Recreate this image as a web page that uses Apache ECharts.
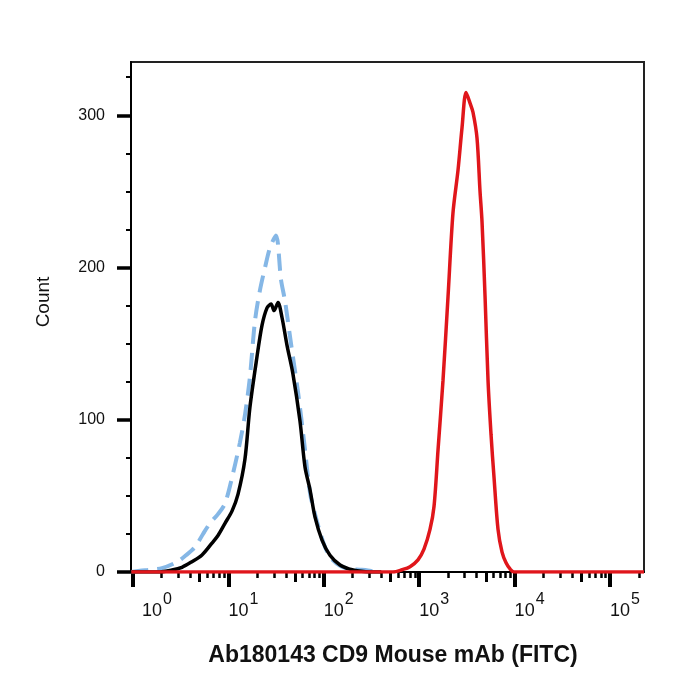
<!DOCTYPE html>
<html>
<head>
<meta charset="utf-8">
<script src="https://cdn.jsdelivr.net/npm/echarts@6/dist/echarts.min.js"></script>
<style>
  html, body { margin: 0; padding: 0; background: #fff; }
  #main { width: 700px; height: 700px; }
</style>
</head>
<body>
<div id="main"></div>
<script>
// FITC intensity / event count
// black solid line
const blackX = [0.96, 1.83, 2.56, 3.26, 4.15, 5.29, 6.73, 7.78, 9.21, 10.9, 12.6, 14.9, 16.8, 19.9, 22.5, 25.4, 28.0, 30.1, 33.1, 36.5, 41.1, 47.5, 56.3, 63.5, 71.7, 80.9, 95.8, 116, 148, 188, 223, 320, 400]
const blackY = [0, 0, 1.3, 3.1, 6.8, 11.2, 19, 24, 32, 40, 51, 74, 108, 141, 162, 173.5, 176, 171.7, 177, 167, 149, 130, 99, 69, 54, 36, 21, 11, 4.6, 1.8, 0.8, 0, 0]
// blue dashed line
const blueX = [0.96, 1.18, 1.51, 2.01, 2.89, 3.59, 4.47, 5.42, 6.41, 7.78, 9.21, 11.2, 13.2, 14.9, 16.8, 19.0, 21.4, 24.2, 27.3, 31.5, 35.6, 39.2, 45.3, 53.7, 62.0, 71.7, 80.9, 98.1, 116, 148, 188, 239, 290, 352]
const blueY = [0, 0.8, 1.5, 2.5, 6.6, 11, 16.4, 25, 32, 38, 45, 65, 85, 103, 128, 165, 185, 200, 213, 221, 192, 178, 150, 118, 86, 52, 38, 20, 10, 4, 2, 1.5, 1, 0]
// red line (CD9)
const redX = [0.96, 531, 661, 801, 971, 1122, 1297, 1429, 1574, 1776, 2005, 2260, 2551, 2811, 3097, 3408, 3661, 4034, 4339, 4553, 4898, 5262, 5662, 6085, 6699, 7382, 8128, 8954, 9854, 227000]
const redY = [0, 0, 1.5, 3.5, 8, 15, 28, 43, 80, 126, 181, 236, 264, 292, 315, 308, 302, 285, 250, 230, 181, 126, 90, 62, 28, 13, 6, 2, 0, 0]

// axis ticks
const xMajor = [1, 10, 100, 1000, 10000, 100000]
const xMid = [5, 50, 500, 5000, 50000]
const xMinor = [2, 3, 4, 6, 7, 8, 9, 20, 30, 40, 60, 70, 80, 90, 200, 300, 400, 600, 700, 800, 900,
  2000, 3000, 4000, 6000, 7000, 8000, 9000, 20000, 30000, 40000, 60000, 70000, 80000, 90000, 200000]
const yMajor = [0, 100, 200, 300]
const yMinor = [25, 50, 75, 125, 150, 175, 225, 250, 275, 325]

const xMin = 0.953
const xMax = 227000
const font = 'Liberation Sans, Arial, Helvetica, sans-serif'

const zip = (xs, ys) => xs.map((x, i) => [x, ys[i]])

function tickAxis(values, len, width) {
  return {
    type: 'log',
    position: 'bottom',
    min: xMin,
    max: xMax,
    axisLine: { show: false },
    splitLine: { show: false },
    axisLabel: { show: false },
    axisTick: { show: true, length: len, customValues: values, lineStyle: { color: '#000', width: width } }
  }
}

let myChart = echarts.init(document.getElementById('main'))
myChart.setOption({
  animation: false,
  backgroundColor: '#fff',
  textStyle: { fontFamily: font },
  grid: {
    left: 131, right: 56, top: 62, bottom: 128,
    show: true, borderColor: '#222', borderWidth: 2,
    outerBoundsMode: 'none'
  },
  xAxis: [
    {
      type: 'log',
      position: 'bottom',
      min: xMin,
      max: xMax,
      name: 'Ab180143 CD9 Mouse mAb (FITC)',
      nameLocation: 'middle',
      nameGap: 72,
      nameTextStyle: { fontFamily: font, fontSize: 23, fontWeight: 'bold', color: '#111', padding: [0, 0, 0, 11] },
      axisLine: { show: true, lineStyle: { color: '#000', width: 2 } },
      splitLine: { show: false },
      axisTick: { show: true, length: 15, customValues: xMajor, lineStyle: { color: '#000', width: 4 } },
      axisLabel: {
        customValues: xMajor,
        align: 'left',
        margin: 20,
        color: '#111',
        formatter: function (v) {
          const p = Math.round(Math.log10(v))
          return (p === 0 ? '{b0|10}' : '{b|10}') + '{s|' + p + '}'
        },
        rich: {
          b: { fontFamily: font, fontSize: 18, color: '#111', verticalAlign: 'bottom' },
          b0: { fontFamily: font, fontSize: 18, color: '#111', verticalAlign: 'bottom', padding: [0, 0, 0, 9] },
          s: { fontFamily: font, fontSize: 16, color: '#111', verticalAlign: 'top', padding: [0, 0, 12, 1] }
        }
      }
    },
    tickAxis(xMid, 10, 3),
    tickAxis(xMinor, 6, 2.5)
  ],
  yAxis: [
    {
      type: 'value',
      position: 'left',
      min: 0,
      max: 335,
      name: 'Count',
      nameLocation: 'middle',
      nameGap: 78,
      nameTextStyle: { fontFamily: font, fontSize: 19, color: '#111', padding: [0, 0, 0, 30] },
      axisLine: { show: true, lineStyle: { color: '#000', width: 2 } },
      splitLine: { show: false },
      axisTick: { show: true, length: 14, customValues: yMajor, lineStyle: { color: '#000', width: 3.5 } },
      axisLabel: { customValues: yMajor, margin: 26, fontFamily: font, fontSize: 16, color: '#111' }
    },
    {
      type: 'value',
      position: 'left',
      min: 0,
      max: 335,
      axisLine: { show: false },
      splitLine: { show: false },
      axisLabel: { show: false },
      axisTick: { show: true, length: 5, customValues: yMinor, lineStyle: { color: '#000', width: 2 } }
    }
  ],
  series: [
    {
      name: 'blue',
      type: 'line',
      data: zip(blueX, blueY),
      showSymbol: false,
      smooth: 0.3,
      lineStyle: { color: '#85b7e6', width: 4, type: [17, 9] }
    },
    {
      name: 'black',
      type: 'line',
      data: zip(blackX, blackY),
      showSymbol: false,
      smooth: 0.3,
      lineStyle: { color: '#000', width: 3.5 }
    },
    {
      name: 'red',
      type: 'line',
      data: zip(redX, redY),
      showSymbol: false,
      smooth: 0.3,
      lineStyle: { color: '#e0161b', width: 3.5 }
    }
  ]
})
</script>
</body>
</html>
